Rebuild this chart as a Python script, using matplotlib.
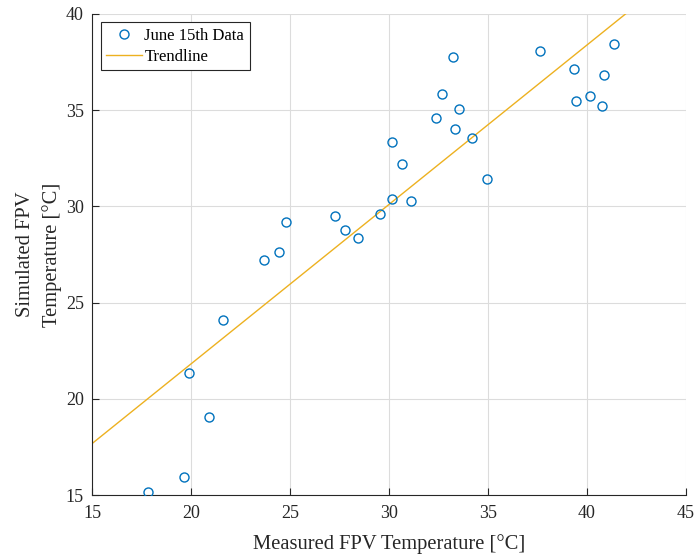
import numpy as np
import matplotlib.pyplot as plt

plt.rcParams['font.family'] = ['Liberation Serif', 'DejaVu Serif']

# June 15th measured vs simulated FPV temperature
measured = [17.84, 19.63, 20.89, 19.90, 21.59, 23.66, 24.45, 24.78, 27.27, 27.78,
            28.41, 29.54, 30.15, 30.16, 33.22, 32.68, 33.54, 32.38, 33.34, 34.18,
            30.67, 31.09, 34.96, 37.64, 39.35, 41.36, 40.89, 39.48, 40.18, 40.77]
simulated = [15.14, 15.92, 19.07, 21.33, 24.08, 27.23, 27.65, 29.17, 29.50, 28.77,
             28.34, 29.59, 30.37, 33.33, 37.77, 35.86, 35.06, 34.61, 34.02, 33.57,
             32.22, 30.26, 31.44, 38.08, 37.12, 38.46, 36.83, 35.46, 35.72, 35.20]

# trendline coefficients (y = a*x + b)
trend_slope = 0.8276
trend_intercept = 5.27
trend_x = [15, 45]

BLUE = '#0072BD'
YELLOW = '#EDB120'
TXT = '#262626'

fig, ax = plt.subplots(figsize=(6.94, 5.55), dpi=100)
fig.subplots_adjust(left=0.133, right=0.988, top=0.975, bottom=0.108)

ax.plot(measured, simulated, 'o', ls='none', mfc='none', mec=BLUE, ms=6.5, mew=1.0,
        label='June 15th Data', zorder=3)
tx = np.array(trend_x, dtype=float)
ax.plot(tx, trend_slope * tx + trend_intercept, color=YELLOW, lw=1.0, label='Trendline', zorder=2)

ax.set_xlim(15, 45)
ax.set_ylim(15, 40)
ax.set_xticks(range(15, 46, 5))
ax.set_yticks(range(15, 41, 5))
ax.grid(True, color='#dcdcdc', lw=0.8)
ax.set_axisbelow(True)
for s in ['top', 'right']:
    ax.spines[s].set_visible(False)
for s in ['left', 'bottom']:
    ax.spines[s].set_color(TXT)
    ax.spines[s].set_linewidth(0.8)
ax.tick_params(direction='in', length=5, color=TXT, labelcolor=TXT, labelsize=13)
ax.tick_params(axis='x', pad=7)
ax.tick_params(axis='y', pad=6)

ax.set_xlabel('Measured FPV Temperature [°C]', fontsize=14.8, color=TXT, labelpad=9)
ax.set_ylabel('Simulated FPV\nTemperature [°C]', fontsize=14.8, color=TXT, labelpad=3,
              linespacing=1.45)

leg = ax.legend(loc='upper left', fontsize=12, frameon=True, fancybox=False,
                edgecolor=TXT, framealpha=1, borderaxespad=0.5, handlelength=2.15,
                handletextpad=0.15, borderpad=0.33, labelspacing=0.3)
leg.get_frame().set_linewidth(0.8)

fig.savefig('out.png', dpi=100)
